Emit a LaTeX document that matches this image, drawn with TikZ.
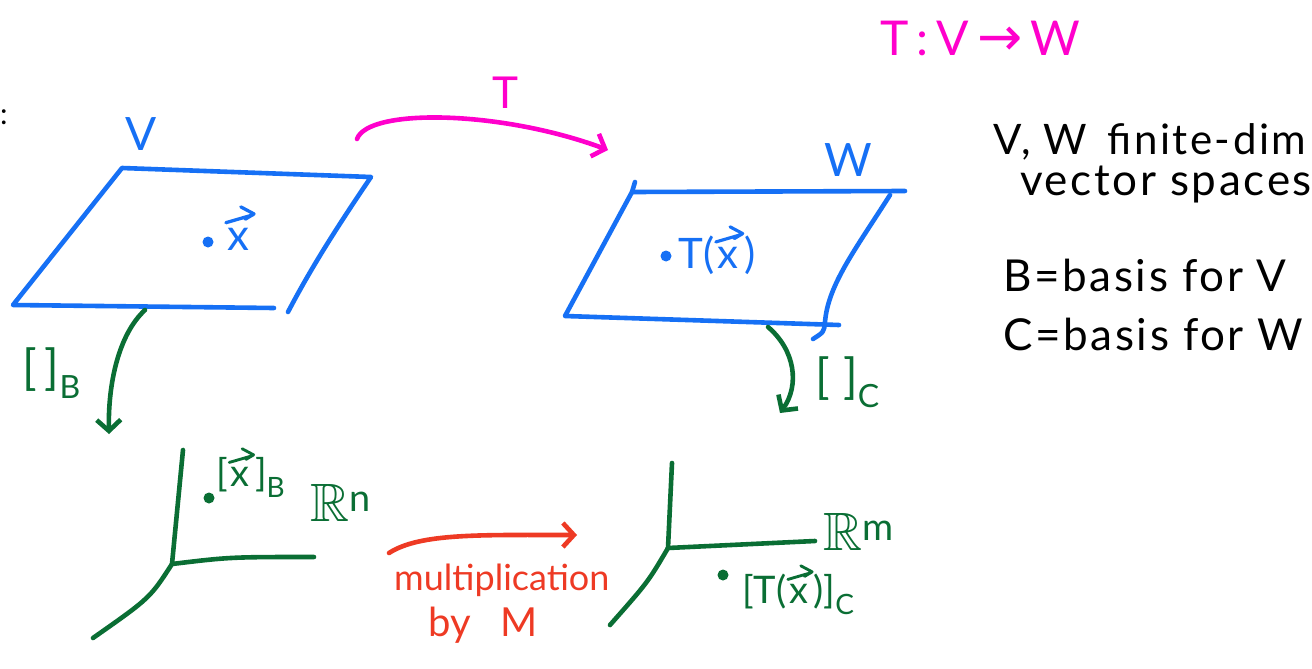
\documentclass[tikz,border=0pt]{standalone}
\usepackage{fontspec}
\usepackage{amssymb}
\setmainfont{Lato}
\newfontfamily\dv{DejaVu Sans}
\usetikzlibrary{arrows.meta}
\definecolor{pblue}{RGB}{22,112,245}
\definecolor{pgreen}{RGB}{10,110,52}
\definecolor{pmag}{RGB}{255,0,204}
\definecolor{pred}{RGB}{238,58,36}
\newcommand{\vx}{\tikz[baseline=0pt,x=1em,y=1em]{\node[inner sep=0pt,anchor=base west] (vxglyph) at (0,0) {x};
  \draw[line width=0.075em,line cap=round,line join=round] (-0.04,0.62) -- (0.58,0.80) (0.30,0.98) -- (0.60,0.82) -- (0.40,0.70);}}
\tikzset{
  pen/.style={line width=4.6pt,line cap=round,line join=round},
  barb/.style={-{Straight Barb[length=11pt,width=24pt]}},
  lbl/.style={inner sep=0pt,anchor=base west},
  dotmark/.style={circle,fill,inner sep=0pt,minimum size=11pt},
  fs/.style={font=\fontsize{#1}{#1}\selectfont},
  wide/.style={font=\fontsize{#1}{#1}\selectfont\addfontfeature{LetterSpace=6}}
}
\begin{document}
\begin{tikzpicture}[x=1pt,y=-1pt]
\useasboundingbox (0,0) rectangle (1312,669);
\fill[white] (0,0) rectangle (1312,669);

% colon at left edge
\node[lbl,fs=30] (colon) at (0,124) {:};

% ---------- V plane ----------
\coordinate (V1) at (13,305);
\coordinate (V2) at (122,168);
\coordinate (V3) at (371,177);
\coordinate (V4) at (288,312);
\coordinate (V5) at (274,308);
\draw[pen,pblue] (V5) -- (V1) -- (V2) -- (V3) .. controls (335,230) and (310,270) .. (V4);
\node[pblue,fs=46,inner sep=0pt] (Vlab) at (141,134) {V};
\node[dotmark,pblue] (xdot) at (208,242) {};
\node[pblue,fs=44,lbl] (xlab) at (224,250) {\vx};

% ---------- W plane ----------
\coordinate (W1) at (565,316);
\coordinate (W2) at (632,192);
\coordinate (W3) at (905,191);
\coordinate (W4) at (890,195);
\coordinate (W5) at (813,339);
\coordinate (W6) at (839,325);
\draw[pen,pblue] (W6) -- (W1) -- (W2) -- (W3);
\draw[pen,pblue] (W2) -- (635,182);
\draw[pen,pblue] (W4) .. controls (855,250) and (828,285) .. (825,322) .. controls (824,332) .. (W5);
\node[pblue,fs=46,inner sep=0pt] (Wlab) at (848,160) {W};
\node[dotmark,pblue] (Txdot) at (666,256) {};
\node[pblue,fs=42,lbl] (Txlab) at (678,268) {T(\vx)};

% ---------- T arrow ----------
\coordinate (Ts) at (357,139);
\coordinate (Te) at (608,150);
\draw[pen,pmag,barb] (Ts) .. controls (368,108) and (500,110) .. (Te);
\node[pmag,fs=44,inner sep=0pt] (Tlab) at (505,93) {T};
\node[pmag,wide=48,lbl] (Tmap) at (880,56) {T\,:\,V\,{\dv\fontsize{54}{54}\selectfont →}\,W};

% ---------- right text ----------
\node[lbl,wide=42] (t1) at (993,154) {V, W\, finite-dim};
\node[lbl,wide=44] (t2) at (1020,195) {vector spaces};
\node[lbl,wide=44] (t3) at (1003,291) {B=basis for V};
\node[lbl,wide=44] (t4) at (1003,350) {C=basis for W};

% ---------- coordinate maps ----------
\coordinate (Bs) at (145,310);
\coordinate (Be) at (109,434);
\draw[pen,pgreen,barb] (Bs) .. controls (118,335) and (108,385) .. (Be);
\node[pgreen,lbl,fs=48] (Blab) at (22,384) {[\,]\textsubscript{\fontsize{32}{32}\selectfont B}};

\coordinate (Cs) at (768,327);
\coordinate (Ce) at (780,413);
\draw[pen,pgreen,barb] (Cs) .. controls (795,350) and (800,385) .. (Ce);
\node[pgreen,lbl,fs=48] (Clab) at (815,393) {[\;]\textsubscript{\fontsize{32}{32}\selectfont C}};

% ---------- R^n ----------
\coordinate (On) at (172,564);
\coordinate (Nup) at (183,450);
\coordinate (Nright) at (314,557);
\coordinate (Ndown) at (93,638);
\draw[pen,pgreen] (Nup) -- (On);
\draw[pen,pgreen] (On) .. controls (230,557) .. (Nright);
\draw[pen,pgreen] (On) .. controls (150,598) .. (Ndown);
\node[dotmark,pgreen] (xBdot) at (209,498) {};
\node[pgreen,lbl,fs=38] (xBlab) at (216,486) {[\vx]\textsubscript{\fontsize{28}{28}\selectfont B}};
\node[pgreen,lbl,fs=54] (Rn) at (310,521) {$\mathbb{R}^{\mathrm{n}}$};

% ---------- R^m ----------
\coordinate (Om) at (668,548);
\coordinate (Mup) at (672,463);
\coordinate (Mright) at (815,541);
\coordinate (Mdown) at (610,625);
\draw[pen,pgreen] (Mup) -- (Om);
\draw[pen,pgreen] (Om) -- (Mright);
\draw[pen,pgreen] (Om) .. controls (648,582) .. (Mdown);
\node[dotmark,pgreen] (Txdot2) at (723,575) {};
\node[pgreen,lbl,fs=38] (TxClab) at (742,603) {[T(\vx)]\textsubscript{\fontsize{28}{28}\selectfont C}};
\node[pgreen,lbl,fs=54] (Rm) at (823,550) {$\mathbb{R}^{\mathrm{m}}$};

% ---------- multiplication by M ----------
\coordinate (Ms) at (389,553);
\coordinate (Me) at (577,535);
\draw[pen,pred,barb] (Ms) .. controls (420,533) and (480,535) .. (Me);
\node[pred,lbl,fs=36] (mult) at (394,590) {multiplication};
\node[pred,lbl,fs=40] (byM) at (428,636) {by\,\,\, M};
\end{tikzpicture}
\end{document}
